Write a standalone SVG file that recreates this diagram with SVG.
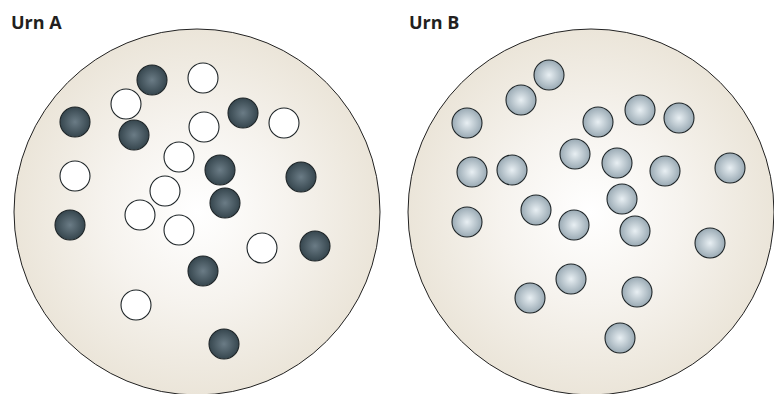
<svg xmlns="http://www.w3.org/2000/svg" width="774" height="394" viewBox="0 0 774 394">
<defs>
<radialGradient id="urnBg" cx="0.5" cy="0.5" r="0.5">
<stop offset="0" stop-color="#ffffff"/>
<stop offset="0.5" stop-color="#f6f3ee"/>
<stop offset="1" stop-color="#ebe5d9"/>
</radialGradient>
<radialGradient id="dark" cx="0.5" cy="0.5" r="0.5">
<stop offset="0" stop-color="#6b7c86"/>
<stop offset="1" stop-color="#36464e"/>
</radialGradient>
<radialGradient id="blue" cx="0.5" cy="0.5" r="0.5">
<stop offset="0" stop-color="#e8eff3"/>
<stop offset="1" stop-color="#9aaab4"/>
</radialGradient>
</defs>
<style>
.urn{fill:url(#urnBg);stroke:#222;stroke-width:1}
.d{fill:url(#dark);stroke:#1e2528;stroke-width:1.1}
.w{fill:#fff;stroke:#1e2528;stroke-width:1.1}
.b{fill:url(#blue);stroke:#1e2528;stroke-width:1.1}
.lbl{font-family:"Open Sans",Lato,sans-serif;font-weight:bold;font-size:18px;fill:#231f20}
</style>
<rect width="774" height="394" fill="#fff"/>
<text class="lbl" x="11" y="29">Urn A</text>
<text class="lbl" x="409" y="29">Urn B</text>
<g id="urnA">
<circle class="urn" cx="197" cy="212" r="183"/>
<circle class="d" cx="152" cy="80" r="15"/>
<circle class="d" cx="75" cy="122" r="15"/>
<circle class="d" cx="134" cy="135" r="15"/>
<circle class="d" cx="243" cy="113" r="15"/>
<circle class="d" cx="220" cy="170" r="15"/>
<circle class="d" cx="301" cy="177" r="15"/>
<circle class="d" cx="225" cy="203" r="15"/>
<circle class="d" cx="70" cy="225" r="15"/>
<circle class="d" cx="315" cy="246" r="15"/>
<circle class="d" cx="203" cy="271" r="15"/>
<circle class="d" cx="224" cy="344" r="15"/>
<circle class="w" cx="203" cy="78" r="15"/>
<circle class="w" cx="126" cy="104" r="15"/>
<circle class="w" cx="284" cy="123" r="15"/>
<circle class="w" cx="204" cy="127" r="15"/>
<circle class="w" cx="179" cy="157" r="15"/>
<circle class="w" cx="75" cy="176" r="15"/>
<circle class="w" cx="165" cy="191" r="15"/>
<circle class="w" cx="140" cy="215" r="15"/>
<circle class="w" cx="179" cy="230" r="15"/>
<circle class="w" cx="262" cy="248" r="15"/>
<circle class="w" cx="136" cy="305" r="15"/>
</g>
<g id="urnB">
<circle class="urn" cx="591" cy="212" r="183"/>
<circle class="b" cx="549" cy="75" r="15"/>
<circle class="b" cx="521" cy="100" r="15"/>
<circle class="b" cx="467" cy="123" r="15"/>
<circle class="b" cx="640" cy="110" r="15"/>
<circle class="b" cx="598" cy="122" r="15"/>
<circle class="b" cx="679" cy="118" r="15"/>
<circle class="b" cx="575" cy="154" r="15"/>
<circle class="b" cx="617" cy="163" r="15"/>
<circle class="b" cx="665" cy="171" r="15"/>
<circle class="b" cx="730" cy="168" r="15"/>
<circle class="b" cx="472" cy="172" r="15"/>
<circle class="b" cx="512" cy="170" r="15"/>
<circle class="b" cx="622" cy="199" r="15"/>
<circle class="b" cx="536" cy="210" r="15"/>
<circle class="b" cx="467" cy="222" r="15"/>
<circle class="b" cx="574" cy="225" r="15"/>
<circle class="b" cx="635" cy="231" r="15"/>
<circle class="b" cx="710" cy="243" r="15"/>
<circle class="b" cx="571" cy="279" r="15"/>
<circle class="b" cx="530" cy="298" r="15"/>
<circle class="b" cx="637" cy="292" r="15"/>
<circle class="b" cx="620" cy="338" r="15"/>
</g>
</svg>
